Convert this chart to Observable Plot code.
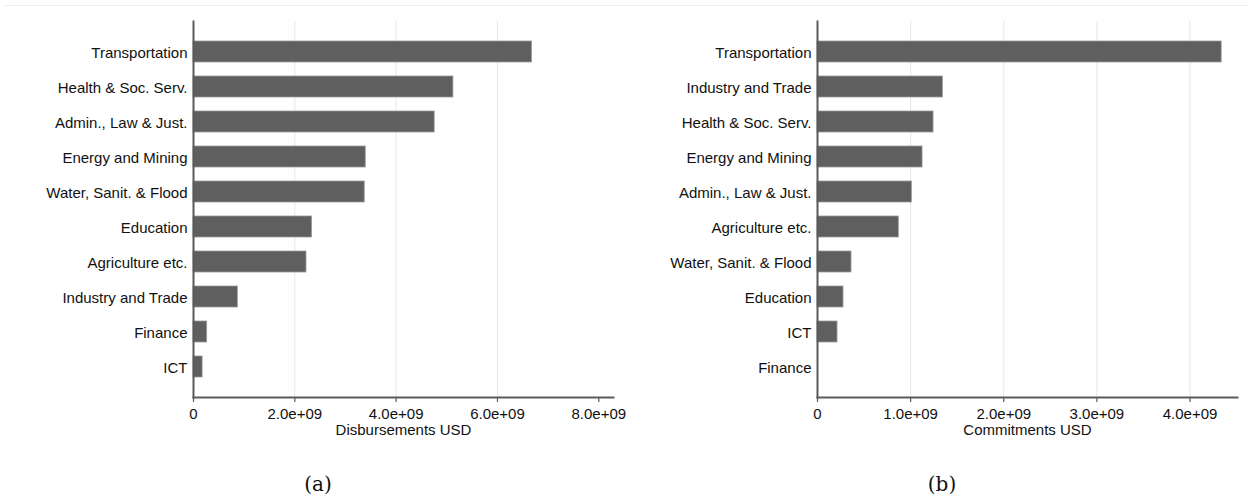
<!DOCTYPE html>
<html>
<head>
<meta charset="utf-8">
<script src="https://cdn.jsdelivr.net/npm/d3@7"></script>
<script src="https://cdn.jsdelivr.net/npm/@observablehq/plot@0.6"></script>
<style>
  html, body { margin: 0; padding: 0; background: #fff; }
  #root { position: relative; width: 1249px; height: 499px; overflow: hidden; font-family: "Liberation Sans", Arial, sans-serif; }
  #topline { position: absolute; left: 5px; right: 0; top: 5px; height: 0; border-top: 1px solid #ececec; }
  .panel { position: absolute; top: 0; }
  .cap { position: absolute; top: 472px; width: 80px; margin-left: -40px; text-align: center;
         font-family: "DejaVu Serif", "Liberation Serif", serif; font-size: 20px; color: #111; }
</style>
</head>
<body>
<div id="root">
  <div id="topline"></div>
  <div class="panel" id="pa" style="left:0px"></div>
  <div class="panel" id="pb" style="left:624px"></div>
  <div class="cap" style="left:318px">(a)</div>
  <div class="cap" style="left:942px">(b)</div>
</div>
<script>
// Panel (a): disbursements
const leftSectors = ["Transportation", "Health & Soc. Serv.", "Admin., Law & Just.", "Energy and Mining", "Water, Sanit. & Flood", "Education", "Agriculture etc.", "Industry and Trade", "Finance", "ICT"];
const leftValues = [6.68e9, 5.13e9, 4.76e9, 3.40e9, 3.38e9, 2.34e9, 2.23e9, 0.875e9, 0.27e9, 0.18e9];
const leftTicks = [0, 2e9, 4e9, 6e9, 8e9];
const leftGrid = [2e9, 4e9, 6e9];
const leftTitle = "Disbursements USD";
const leftDomain = [0, 8.29e9];

// Panel (b): commitments
const rightSectors = ["Transportation", "Industry and Trade", "Health & Soc. Serv.", "Energy and Mining", "Admin., Law & Just.", "Agriculture etc.", "Water, Sanit. & Flood", "Education", "ICT", "Finance"];
const rightValues = [4.34e9, 1.346e9, 1.246e9, 1.128e9, 1.013e9, 0.873e9, 0.365e9, 0.279e9, 0.215e9, 0];
const rightTicks = [0, 1e9, 2e9, 3e9, 4e9];
const rightGrid = [1e9, 2e9, 3e9, 4e9];
const rightTitle = "Commitments USD";
const rightDomain = [0, 4.51e9];

const fmt = v => v === 0 ? "0" : v.toExponential(1).replace(/e\+(\d)$/, "e+0$1");

function panel(sectors, values, ticks, grid, title, domain) {
  const data = sectors.map((s, i) => ({sector: s, value: values[i]}));
  return Plot.plot({
    width: 624,
    height: 460,
    marginLeft: 193,
    marginRight: 11,
    marginTop: 21,
    marginBottom: 63,
    style: {fontFamily: "'Liberation Sans', Arial, sans-serif", fontSize: "15px", color: "#111", background: "transparent", overflow: "visible"},
    x: {domain: domain, label: null},
    y: {domain: sectors, padding: 0, paddingInner: 0.41, paddingOuter: 0.575, label: null},
    marks: [
      Plot.gridX(grid, {stroke: "#e6e6e6", strokeOpacity: 1, strokeWidth: 1}),
      Plot.barX(data, {x: "value", y: "sector", fill: "#5f5f5f", stroke: "#9a9a9a", strokeWidth: 0.8}),
      Plot.axisY({tickSize: 0, tickPadding: 6, fontSize: 15, dy: 1.5, label: null}),
      Plot.axisX({ticks: ticks, tickFormat: fmt, tickSize: 5, tickPadding: 6, fontSize: 15, stroke: "#5a5a5a", strokeWidth: 1.2, label: null}),
      Plot.frame({anchor: "bottom", stroke: "#5a5a5a", strokeWidth: 2}),
      Plot.frame({anchor: "left", stroke: "#5a5a5a", strokeWidth: 2}),
      Plot.text([title], {frameAnchor: "bottom", dy: 37.5, fontSize: 15, fill: "#111"})
    ]
  });
}

document.getElementById("pa").appendChild(panel(leftSectors, leftValues, leftTicks, leftGrid, leftTitle, leftDomain));
document.getElementById("pb").appendChild(panel(rightSectors, rightValues, rightTicks, rightGrid, rightTitle, rightDomain));
</script>
</body>
</html>
